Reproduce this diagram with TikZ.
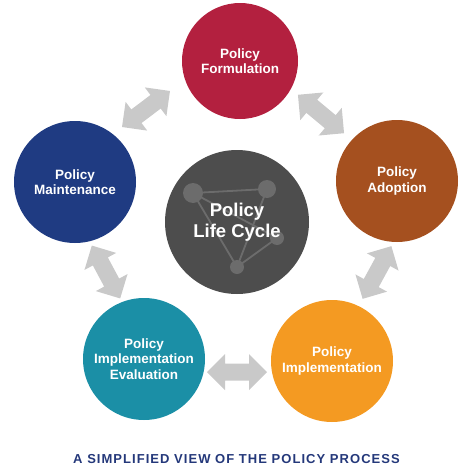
\documentclass[tikz,border=0pt]{standalone}
\usepackage{fontspec}
\setmainfont{Liberation Sans}
\newfontfamily\titlefont{Liberation Sans}[LetterSpace=8]
\definecolor{formred}{HTML}{B3203F}
\definecolor{adoptbrown}{HTML}{A5501F}
\definecolor{implorange}{HTML}{F49A22}
\definecolor{evalteal}{HTML}{1B8FA6}
\definecolor{maintblue}{HTML}{1F3B82}
\definecolor{coregray}{HTML}{4D4D4D}
\definecolor{netgray}{HTML}{6C6C6C}
\definecolor{arrowgray}{HTML}{C9C9C9}
\definecolor{titleblue}{HTML}{24387A}
\begin{document}
\begin{tikzpicture}[x=1pt,y=-1pt,
  phase/.style={circle, inner sep=0pt, minimum size=122pt},
  phasetext/.style={text=white, align=center, inner sep=0pt,
    font=\bfseries\fontsize{13.5}{15.5}\selectfont},
  netnode/.style={circle, fill=netgray, inner sep=0pt},
  netline/.style={draw=netgray, line width=1.8pt},
  dblarrow/.pic={\fill[arrowgray] (-30,0) -- (-12,18) -- (-12,8.5) -- (12,8.5)
     -- (12,18) -- (30,0) -- (12,-18) -- (12,-8.5) -- (-12,-8.5) -- (-12,-18) -- cycle;}
]
\useasboundingbox (0,0) rectangle (474,471);

% arrows
\pic[rotate=36.9] at (146,109) {dblarrow};
\pic[rotate=-39.8] at (321,114) {dblarrow};
\pic[rotate=-61.8] at (106,272) {dblarrow};
\pic[rotate=61.4] at (377,272.5) {dblarrow};
\pic at (237,372) {dblarrow};

% phase circles
\node[phase, fill=formred, minimum size=116pt] (form) at (240,61) {};
\node[phase, fill=maintblue] (maint) at (75,182) {};
\node[phase, fill=adoptbrown] (adopt) at (397,181) {};
\node[phase, fill=evalteal] (eval) at (144,359) {};
\node[phase, fill=implorange] (impl) at (332,361) {};

\node[phasetext] (formtxt) at (form) {Policy\\Formulation};
\node[phasetext] (mainttxt) at (maint) {Policy\\Maintenance};
\node[phasetext] (adopttxt) at (adopt) {Policy\\Adoption};
\node[phasetext] (evaltxt) at (eval) {Policy\\Implementation\\Evaluation};
\node[phasetext] (impltxt) at (impl) {Policy\\Implementation};

% core
\node[circle, fill=coregray, inner sep=0pt, minimum size=144pt] (core) at (237,222) {};
\node[netnode, minimum size=20pt] (na) at (193,193) {};
\node[netnode, minimum size=18pt] (nb) at (267,189) {};
\node[netnode, minimum size=14pt] (nc) at (277,238) {};
\node[netnode, minimum size=14pt] (nd) at (237,267) {};
\draw[netline] (na.center) -- (nb.center);
\draw[netline] (na.center) -- (nd.center);
\draw[netline] (nb.center) -- (nd.center);
\draw[netline] (nd.center) -- (nc.center);
\draw[netline] (na.center) -- (nc.center);
\node[text=white, align=center, inner sep=0pt,
  font=\bfseries\fontsize{18.5}{20.5}\selectfont] (coretxt) at (core) {Policy\\Life Cycle};

% title
\node[text=titleblue, inner sep=0pt] (title) at (236.5,459)
  {\titlefont\bfseries\fontsize{13}{15}\selectfont A SIMPLIFIED VIEW OF THE POLICY PROCESS};
\end{tikzpicture}
\end{document}
